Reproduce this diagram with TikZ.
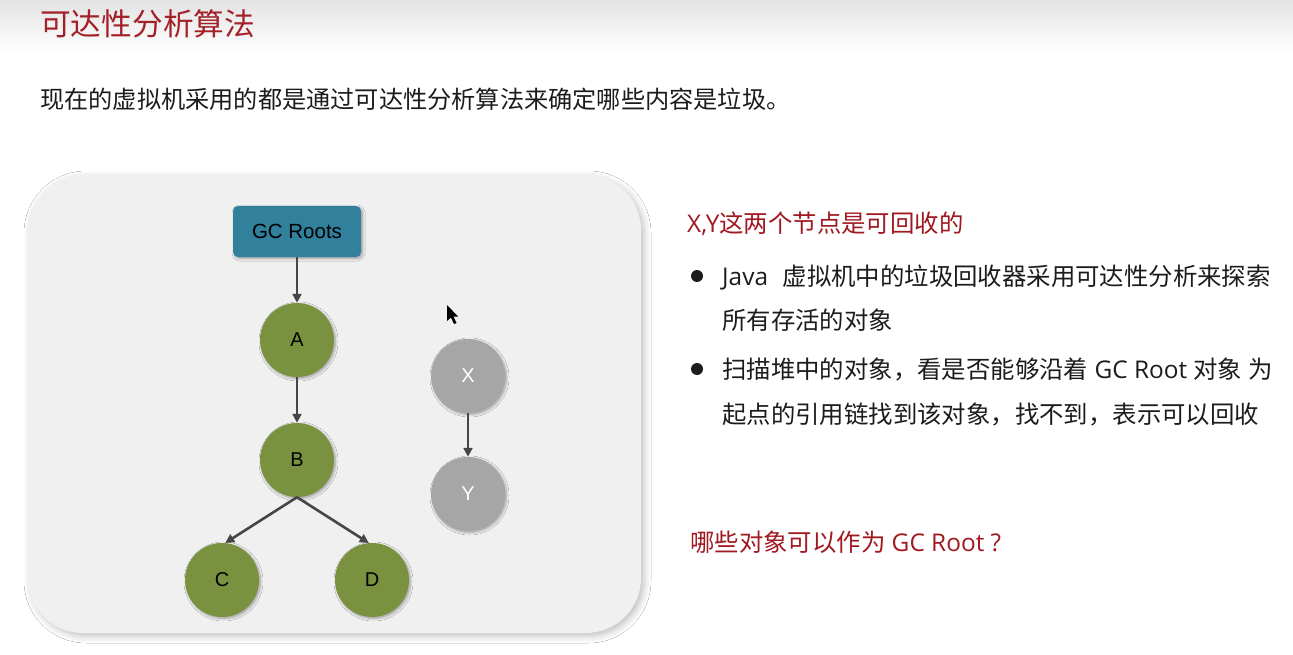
\documentclass[tikz,border=0pt]{standalone}
\usepackage{fontspec}
\setmainfont{Liberation Sans}
\newfontfamily\cjkfont{Noto Sans CJK SC}
\newfontfamily\latinfont{Open Sans}
\newcommand{\latpart}[1]{{\latinfont #1}}
\usetikzlibrary{arrows.meta,shadows.blur}

\definecolor{titlered}{RGB}{163,33,40}
\definecolor{notered}{RGB}{160,24,32}
\definecolor{panelgray}{RGB}{240,240,240}
\definecolor{rootteal}{RGB}{49,128,156}
\definecolor{reachgreen}{RGB}{122,146,63}
\definecolor{deadgray}{RGB}{166,166,166}
\definecolor{edgegray}{RGB}{70,70,70}
\definecolor{inkblack}{RGB}{28,28,28}

\tikzset{
  x=1pt, y=-1pt,
  softshadow/.style={blur shadow={shadow xshift=1.5pt, shadow yshift=-1.5pt,
      shadow blur radius=2.5pt, shadow blur steps=6, shadow opacity=35}},
  obj/.style={circle, minimum size=74pt, inner sep=0pt,
      font=\fontsize{20}{20}\selectfont, softshadow},
  live/.style={obj, fill=reachgreen, text=black},
  dead/.style={obj, fill=deadgray, text=white},
  rootbox/.style={rectangle, rounded corners=5pt, fill=rootteal, text=black,
      minimum width=128pt, minimum height=51pt, inner sep=0pt,
      font=\fontsize{20.5}{20}\selectfont, softshadow},
  ref/.style={draw=edgegray, line width=2.6pt,
      -{Triangle[length=9pt,width=9pt]}},
  headtext/.style={anchor=base west, inner sep=0pt, text=titlered,
      font=\cjkfont\fontsize{30.7}{31}\selectfont},
  introtext/.style={anchor=base west, inner sep=0pt, text=inkblack,
      font=\cjkfont\fontsize{24.2}{24}\selectfont},
  bodytext/.style={anchor=base west, inner sep=0pt, text=inkblack,
      font=\cjkfont\fontsize{24.4}{24}\selectfont},
  notetext/.style={anchor=base west, inner sep=0pt, text=notered,
      font=\cjkfont\fontsize{24.4}{24}\selectfont},
}

\begin{document}
\begin{tikzpicture}
\useasboundingbox (0,0) rectangle (1293,655);
\fill[white] (0,0) rectangle (1293,655);

% header band
\shade[top color=black!11, bottom color=white] (0,0) rectangle (1293,52);
\node[headtext] (title) at (40,36) {可达性分析算法};
\node[introtext] (intro) at (40,109) {现在的虚拟机采用的都是通过可达性分析算法来确定哪些内容是垃圾。};

% object graph panel
\fill[panelgray, rounded corners=55pt,
      blur shadow={shadow xshift=3pt, shadow yshift=-3pt,
        shadow blur radius=7pt, shadow opacity=25}]
  (28,175) rectangle (641,633);

\node[rootbox] (roots) at (297,231.5) {GC Roots};
\node[live] (A) at (297,340) {A};
\node[live] (B) at (297,460) {B};
\node[live] (C) at (222,580) {C};
\node[live] (D) at (372,580) {D};
\node[dead] (X) at (468,376) {X};
\node[dead] (Y) at (468,494) {Y};

\draw[ref] (roots.south) -- (A.north);
\draw[ref] (A.south) -- (B.north);
\draw[ref] (B.south) -- (C.85);
\draw[ref] (B.south) -- (D.95);
\draw[ref] (X.south) -- (Y.north);

% mouse pointer
\fill[black] (447,305) -- (447,321) -- (451,317.5) -- (454,324) -- (456.5,323)
  -- (453.5,316.5) -- (458,316.5) -- cycle;

% explanation column
\node[notetext] (claim) at (687,233) {\latpart{X,Y}这两个节点是可回收的};
\fill[inkblack] (697,276) circle (6pt);
\node[bodytext] (p1a) at (722,285) {\latpart{Java}\hspace{0.6em}虚拟机中的垃圾回收器采用可达性分析来探索};
\node[bodytext] (p1b) at (722,329) {所有存活的对象};
\fill[inkblack] (697,369) circle (6pt);
\node[bodytext] (p2a) at (722,378) {扫描堆中的对象，看是否能够沿着\latpart{ GC Root }对象\latpart{ }为};
\node[bodytext] (p2b) at (722,423) {起点的引用链找到该对象，找不到，表示可以回收};
\node[notetext] (ask) at (690,551) {哪些对象可以作为\latpart{ GC Root ?}};
\end{tikzpicture}
\end{document}
